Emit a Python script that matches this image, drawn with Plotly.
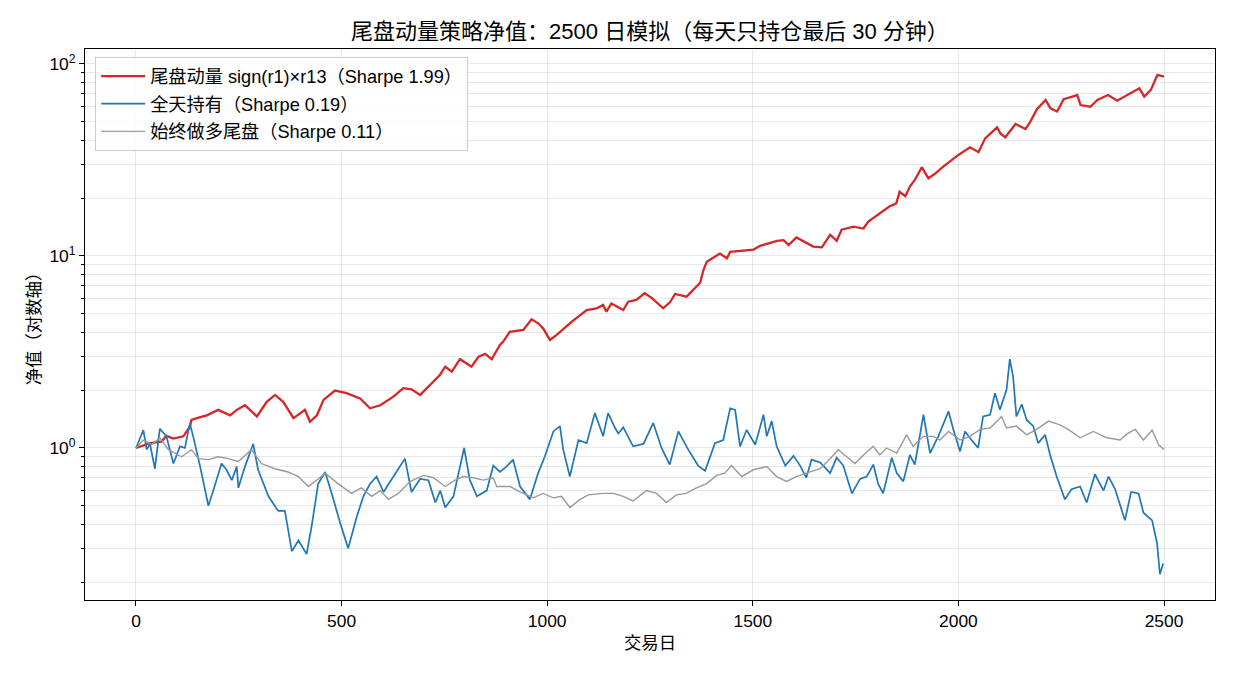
import plotly.graph_objects as go

# ---- data (trading day, net value) ----
red_days = [0, 34, 62, 74, 91, 115, 131, 135, 148, 172, 200, 229, 245, 265, 294, 318, 338, 358, 383, 411, 423, 440,
            456, 484, 512, 545, 569, 594, 626, 650, 670, 691, 715, 739, 752, 768, 788, 816, 833, 849, 865, 885, 893,
            909, 942, 962, 978, 990, 1007, 1023, 1060, 1096, 1120, 1136, 1144, 1156, 1185, 1197, 1217, 1237, 1254,
            1282, 1299, 1311, 1339, 1355, 1372, 1380, 1388, 1420, 1437, 1445, 1477, 1502, 1518, 1559, 1575, 1587,
            1606, 1623, 1647, 1668, 1688, 1704, 1716, 1745, 1769, 1781, 1805, 1832, 1849, 1857, 1871, 1882, 1894,
            1911, 1927, 1943, 1963, 1979, 2000, 2028, 2049, 2065, 2094, 2102, 2114, 2139, 2163, 2175, 2191, 2212,
            2224, 2240, 2256, 2277, 2289, 2297, 2321, 2338, 2364, 2386, 2419, 2440, 2452, 2468, 2484, 2500]
red_vals = [1.00, 1.06, 1.08, 1.155, 1.12, 1.15, 1.29, 1.40, 1.43, 1.48, 1.58, 1.48, 1.58, 1.67, 1.46, 1.74, 1.89,
            1.74, 1.43, 1.58, 1.37, 1.48, 1.78, 1.99, 1.93, 1.81, 1.61, 1.67, 1.85, 2.05, 2.02, 1.89, 2.13, 2.40, 2.65,
            2.50, 2.90, 2.65, 2.99, 3.09, 2.90, 3.44, 3.58, 4.03, 4.12, 4.68, 4.46, 4.20, 3.65, 3.88, 4.55, 5.23, 5.33,
            5.56, 5.13, 5.66, 5.23, 5.78, 5.90, 6.40, 6.05, 5.34, 5.76, 6.34, 6.14, 6.65, 7.26, 8.45, 9.34, 10.3, 9.73,
            10.5, 10.7, 10.8, 11.3, 12.0, 12.1, 11.4, 12.5, 11.9, 11.2, 11.1, 12.9, 12.0, 13.7, 14.2, 13.9, 15.1, 16.4,
            18.1, 18.8, 21.6, 20.5, 23.0, 24.9, 29.0, 25.4, 26.8, 29.2, 31.0, 33.6, 36.8, 34.7, 41.0, 46.8, 43.5, 41.5,
            48.7, 45.8, 50.1, 58.1, 64.9, 58.7, 56.5, 65.5, 67.6, 68.9, 61.1, 59.9, 64.9, 68.9, 64.4, 70.4, 74.7, 67.6,
            73.3, 87.7, 86.0]

blue_days = [0, 18, 26, 34, 46, 58, 74, 91, 107, 119, 131, 139, 156, 176, 188, 208, 220, 233, 245, 249, 265, 285, 297,
             322, 346, 362, 379, 395, 415, 427, 443, 460, 476, 496, 516, 537, 553, 569, 585, 602, 626, 654, 670, 691,
             711, 728, 740, 752, 772, 788, 798, 812, 829, 853, 869, 885, 901, 917, 934, 958, 978, 994, 1015, 1031, 1039,
             1055, 1076, 1096, 1116, 1136, 1148, 1165, 1173, 1185, 1209, 1234, 1258, 1278, 1298, 1319, 1343, 1367, 1384,
             1408, 1428, 1445, 1457, 1469, 1485, 1506, 1526, 1534, 1546, 1558, 1579, 1599, 1615, 1630, 1643, 1664, 1688,
             1704, 1720, 1741, 1761, 1777, 1793, 1805, 1817, 1838, 1850, 1866, 1882, 1894, 1915, 1931, 1951, 1976, 1988,
             2004, 2016, 2032, 2048, 2060, 2077, 2089, 2101, 2117, 2125, 2133, 2141, 2154, 2166, 2182, 2194, 2211, 2223,
             2239, 2259, 2275, 2296, 2312, 2332, 2353, 2365, 2381, 2405, 2420, 2438, 2450, 2471, 2483, 2490, 2498]
blue_vals = [1.00, 1.24, 0.98, 1.05, 0.78, 1.26, 1.15, 0.83, 1.02, 1.00, 1.34, 1.15, 0.80, 0.50, 0.60, 0.83, 0.77, 0.68,
             0.80, 0.62, 0.80, 1.05, 0.77, 0.56, 0.47, 0.47, 0.29, 0.33, 0.28, 0.39, 0.65, 0.75, 0.58, 0.41, 0.30, 0.44,
             0.56, 0.65, 0.71, 0.59, 0.71, 0.88, 0.59, 0.69, 0.68, 0.52, 0.60, 0.49, 0.56, 0.80, 1.00, 0.68, 0.56, 0.60,
             0.81, 0.75, 0.80, 0.87, 0.63, 0.54, 0.74, 0.90, 1.22, 1.30, 0.98, 0.71, 1.10, 1.06, 1.52, 1.15, 1.52, 1.27,
             1.19, 1.28, 1.02, 1.05, 1.35, 1.00, 0.82, 1.22, 0.98, 0.81, 0.76, 1.06, 1.10, 1.61, 1.58, 1.02, 1.24, 1.04,
             1.49, 1.15, 1.38, 1.02, 0.81, 0.91, 0.81, 0.70, 0.87, 0.84, 0.74, 0.89, 0.81, 0.58, 0.69, 0.71, 0.82, 0.65,
             0.58, 0.89, 0.74, 0.67, 0.92, 0.82, 1.49, 0.94, 1.15, 1.55, 1.24, 0.96, 1.22, 1.10, 1.00, 1.46, 1.49, 1.93,
             1.58, 2.01, 2.90, 2.35, 1.46, 1.69, 1.40, 1.30, 1.06, 1.17, 0.92, 0.71, 0.54, 0.61, 0.63, 0.52, 0.73, 0.60,
             0.71, 0.61, 0.42, 0.59, 0.58, 0.46, 0.42, 0.32, 0.22, 0.25]

gray_days = [0, 18, 38, 58, 79, 111, 135, 152, 176, 200, 224, 249, 281, 305, 338, 370, 395, 419, 443, 460, 492, 524,
             548, 573, 594, 614, 638, 667, 699, 723, 752, 776, 796, 820, 845, 869, 877, 910, 934, 966, 990, 1015, 1035,
             1055, 1080, 1100, 1136, 1161, 1185, 1209, 1241, 1266, 1290, 1314, 1338, 1363, 1387, 1412, 1432, 1448, 1473,
             1501, 1534, 1558, 1582, 1606, 1630, 1664, 1688, 1708, 1728, 1749, 1769, 1793, 1809, 1825, 1850, 1874, 1890,
             1915, 1939, 1955, 1976, 2004, 2028, 2053, 2077, 2105, 2117, 2141, 2166, 2190, 2219, 2247, 2267, 2296, 2328,
             2361, 2393, 2409, 2430, 2450, 2471, 2487, 2500]
gray_vals = [1.00, 1.10, 1.04, 1.13, 0.98, 0.90, 0.98, 0.88, 0.87, 0.90, 0.88, 0.85, 0.98, 0.83, 0.78, 0.75, 0.71, 0.63,
             0.69, 0.74, 0.65, 0.58, 0.62, 0.56, 0.60, 0.54, 0.58, 0.67, 0.72, 0.70, 0.63, 0.68, 0.71, 0.70, 0.68, 0.70,
             0.63, 0.63, 0.59, 0.55, 0.58, 0.55, 0.56, 0.49, 0.54, 0.57, 0.58, 0.58, 0.56, 0.53, 0.60, 0.58, 0.52, 0.57,
             0.58, 0.62, 0.65, 0.72, 0.74, 0.81, 0.71, 0.77, 0.80, 0.71, 0.67, 0.71, 0.74, 0.78, 0.88, 0.98, 0.90, 0.83,
             0.92, 1.02, 0.92, 1.00, 0.94, 1.17, 1.02, 1.15, 1.15, 1.10, 1.22, 1.10, 1.15, 1.25, 1.27, 1.46, 1.27, 1.30,
             1.17, 1.25, 1.38, 1.32, 1.25, 1.13, 1.22, 1.13, 1.10, 1.18, 1.25, 1.10, 1.24, 1.04, 0.98]

series_names = ["尾盘动量 sign(r1)×r13（Sharpe 1.99）", "全天持有（Sharpe 0.19）", "始终做多尾盘（Sharpe 0.11）"]
title_text = "尾盘动量策略净值：2500 日模拟（每天只持仓最后 30 分钟）"
x_ticks = [0, 500, 1000, 1500, 2000, 2500]
y_major = [1, 10, 100]
y_major_text = ["10<sup>0</sup>", "10<sup>1</sup>", "10<sup>2</sup>"]
y_minor = [m * 10 ** e for e in (-1, 0, 1) for m in range(2, 10) if 0.16 <= m * 10 ** e <= 119]

FONT = "Liberation Sans, Noto Sans CJK SC, sans-serif"
FS = 17.4

fig = go.Figure()
fig.add_trace(go.Scatter(x=red_days, y=red_vals, mode="lines", name=series_names[0], legendgroup="a",
                         line=dict(color="#d62728", width=2.3)))
fig.add_trace(go.Scatter(x=blue_days, y=blue_vals, mode="lines", name=series_names[1], legendgroup="b",
                         line=dict(color="#1f77b4", width=1.7)))
fig.add_trace(go.Scatter(x=gray_days, y=gray_vals, mode="lines", name=series_names[2], legendgroup="c",
                         line=dict(color="#999999", width=1.4)))

grid = "rgba(0,0,0,0.09)"
fig.update_layout(
    width=1235, height=676,
    margin=dict(l=85, r=20, t=49, b=76),
    paper_bgcolor="white", plot_bgcolor="white",
    font=dict(family=FONT, size=FS, color="black"),
    title=dict(text=title_text, x=0.5, xref="paper", xanchor="center", y=1 - 31 / 676, yanchor="middle",
               font=dict(size=22, family=FONT)),
    showlegend=True,
    legend=dict(x=0.009, y=0.986, xanchor="left", yanchor="top", bgcolor="rgba(255,255,255,0.85)",
                bordercolor="#cccccc", borderwidth=1, font=dict(size=18.2, family=FONT),
                tracegroupgap=1, itemwidth=44),
    xaxis=dict(range=[-124, 2624], tickvals=x_ticks, ticks="outside", ticklen=5, tickcolor="black",
               showline=True, linecolor="black", linewidth=1, mirror=True, showgrid=True, gridcolor=grid,
               zeroline=False, tickfont=dict(size=FS),
               title=dict(text="交易日", font=dict(size=FS), standoff=6)),
    yaxis=dict(type="log", range=[-0.7917, 2.078], tickvals=y_major, ticktext=y_major_text, ticks="outside",
               ticklen=5, tickcolor="black", showline=True, linecolor="black", linewidth=1, mirror=True,
               showgrid=True, gridcolor=grid, zeroline=False, tickfont=dict(size=FS),
               minor=dict(tickmode="array", tickvals=y_minor, ticks="outside", ticklen=3, tickcolor="black",
                          showgrid=True, gridcolor=grid),
               title=dict(text="净值（对数轴）", font=dict(size=FS), standoff=4)),
)

fig.write_html("out.html")
